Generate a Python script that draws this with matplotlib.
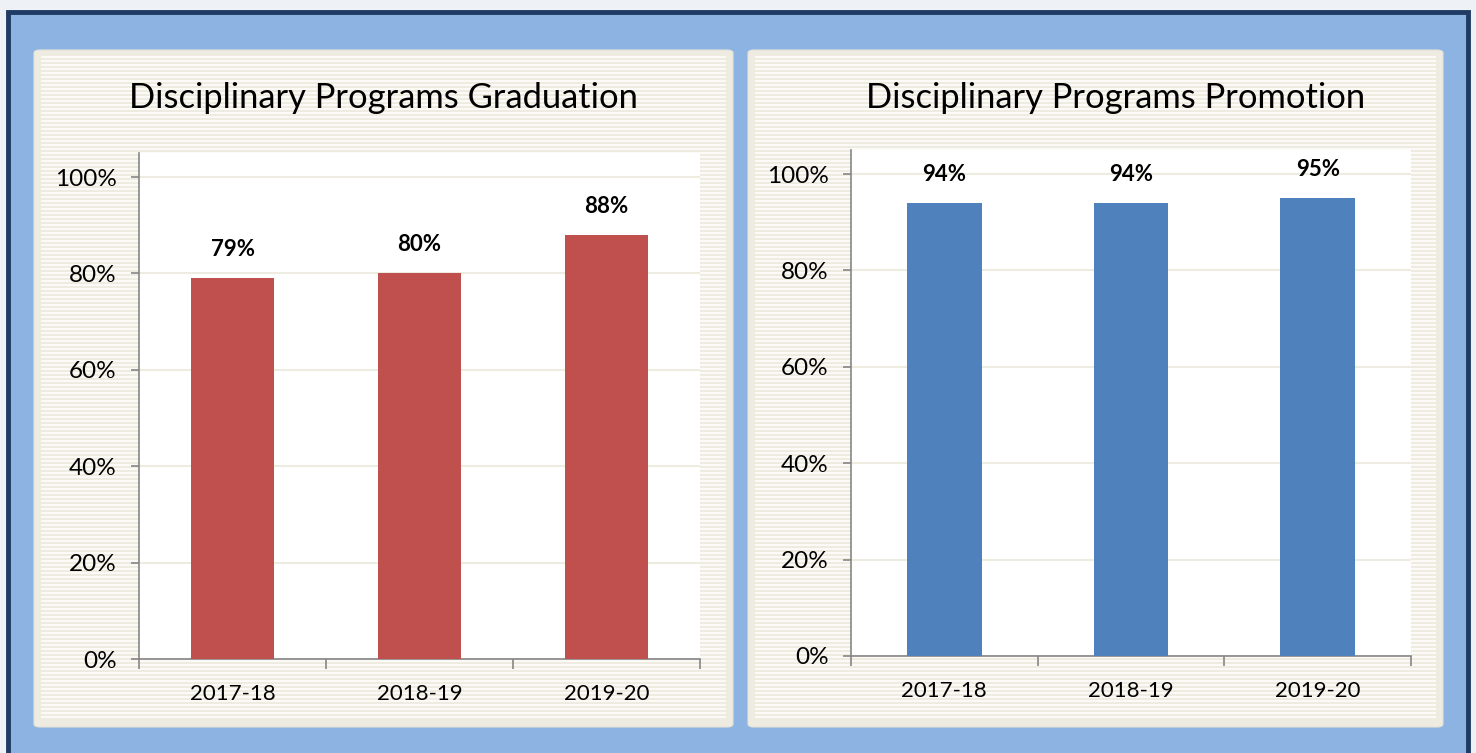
import matplotlib.pyplot as plt
import numpy as np
from matplotlib.colors import ListedColormap
from matplotlib.patches import FancyBboxPatch, Rectangle
from matplotlib.ticker import FixedLocator, FuncFormatter

W, H = 1476, 753

years = ["2017-18", "2018-19", "2019-20"]
graduation = [79, 80, 88]
promotion = [94, 94, 95]

FONT = ["Lato", "DejaVu Sans"]
plt.rcParams["font.family"] = FONT


def px_box(x0, y0, x1, y1):
    # image pixel box (y down) -> figure fraction [left, bottom, width, height]
    return [x0 / W, 1 - y1 / H, (x1 - x0) / W, (y1 - y0) / H]


def add_panel(fig, x0, y0, x1, y1):
    l, b, w, h = px_box(x0, y0, x1, y1)
    fig.add_artist(FancyBboxPatch((l, b), w, h, boxstyle="round,pad=0,rounding_size=0.004",
                                  transform=fig.transFigure, facecolor="#EEEBE0",
                                  edgecolor="#E6E2D6", linewidth=0.8, zorder=1))
    # striped inner area, one image row per 2 px
    iy0, iy1 = y0 + 6, y1 - 8
    rows = (iy1 - iy0) // 2
    ax = fig.add_axes(px_box(x0 + 7, iy0, x1 - 7, iy0 + rows * 2), zorder=2)
    stripes = np.array([[1.0], [0.0]] * (rows // 2 + 1))[:rows]
    ax.imshow(stripes, aspect="auto", cmap=ListedColormap(["#EEEBE0", "#FBFAF6"]),
              interpolation="nearest")
    ax.set_axis_off()


def draw_chart(fig, box, values, color, title, title_x, bar_w):
    ax = fig.add_axes(px_box(*box), zorder=3)
    ax.set_facecolor("white")
    x = np.arange(len(years))
    ax.bar(x, values, width=bar_w, color=color, zorder=3)
    for xi, v in zip(x, values):
        ax.annotate(f"{v}%", (xi, v), xytext=(0, 13), textcoords="offset points",
                    ha="center", va="bottom", fontsize=16, fontweight="bold", color="black")
    ax.set_xlim(-0.5, len(years) - 0.5)
    ax.set_ylim(0, 105)
    ax.set_yticks([0, 20, 40, 60, 80, 100])
    ax.yaxis.set_major_formatter(FuncFormatter(lambda v, p: f"{v:.0f}%"))
    ax.set_xticks(x)
    ax.set_xticklabels(years)
    ax.xaxis.set_minor_locator(FixedLocator(np.arange(-0.5, len(years), 1.0)))
    ax.tick_params(axis="x", which="major", length=0, pad=18, labelsize=16)
    ax.tick_params(axis="x", which="minor", length=7, width=1.2, color="#868686")
    ax.tick_params(axis="y", length=6, width=1.2, color="#868686", pad=10, labelsize=17.5)
    ax.grid(axis="y", color="#EEEBE0", linewidth=1.5, zorder=0)
    ax.set_axisbelow(True)
    for s in ["top", "right"]:
        ax.spines[s].set_visible(False)
    for s in ["left", "bottom"]:
        ax.spines[s].set_color("#868686")
        ax.spines[s].set_linewidth(1.2)
    fig.text(title_x / W, 1 - 98 / H, title, ha="center", va="center", fontsize=24.8, zorder=4)
    return ax


def main():
    fig = plt.figure(figsize=(W / 100, H / 100), dpi=100, facecolor="#EEF2F6")

    # outer blue frame with navy border
    l, b, w, h = px_box(8, 12, 1468, 800)
    fig.add_artist(Rectangle((l, b), w, h, transform=fig.transFigure, facecolor="#8DB3E2",
                             edgecolor="#1F3B63", linewidth=3.5, zorder=0))

    add_panel(fig, 34, 50, 733, 727)
    add_panel(fig, 748, 50, 1443, 727)

    draw_chart(fig, (139, 153, 700, 659), graduation, "#C0504D",
               "Disciplinary Programs Graduation", 383, 0.44)
    draw_chart(fig, (851, 150, 1411, 656), promotion, "#4F81BD",
               "Disciplinary Programs Promotion", 1116, 0.40)

    fig.savefig("out.png", dpi=100, facecolor=fig.get_facecolor())
    plt.close(fig)


if __name__ == "__main__":
    main()
